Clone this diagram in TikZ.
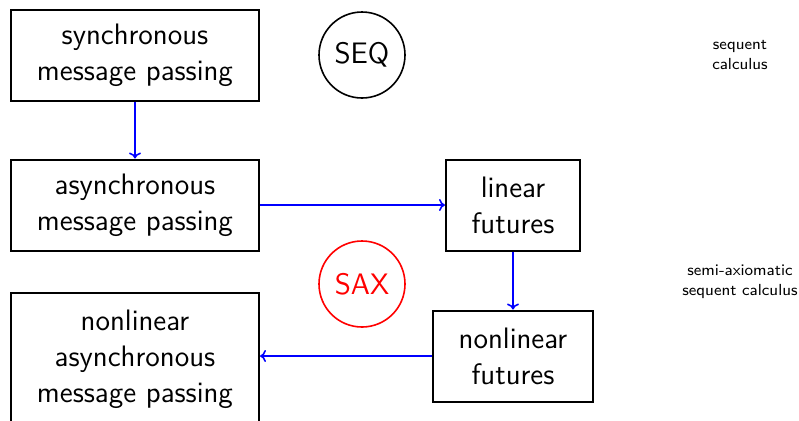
\documentclass[tikz,border=0pt]{standalone}
\usetikzlibrary{arrows.meta}
\begin{document}
\begin{tikzpicture}[x=0.5pt,y=-0.5pt,
  every node/.style={font=\sffamily\fontsize{14.8}{18}\selectfont, align=center, inner sep=0pt},
  box/.style={draw=black, line width=1pt},
  calc/.style={draw, circle, line width=0.8pt, minimum size=43pt},
  note/.style={font=\sffamily\fontsize{8}{10}\selectfont, align=center},
  conn/.style={draw=blue, line width=0.8pt, -{To[length=3pt,width=6pt]}}]
\useasboundingbox (0,0) rectangle (799,420);
\node[box, minimum width=124pt, minimum height=45.5pt] (sync) at (135,55) {synchronous\\message passing};
\node[calc] (seq) at (362,55) {SEQ};
\node[note] (seqlbl) at (740,55) {sequent\\calculus};
\node[box, minimum width=124pt, minimum height=45.5pt] (async) at (135,205) {asynchronous\\message passing};
\node[box, minimum width=67pt, minimum height=45.5pt] (lin) at (513,205) {linear\\futures};
\node[calc, draw=red, text=red] (sax) at (362,284) {SAX};
\node[note] (saxlbl) at (740,282) {semi-axiomatic\\sequent calculus};
\node[box, minimum width=80pt, minimum height=45.5pt] (nlf) at (513,356) {nonlinear\\futures};
\node[box, minimum width=124pt, minimum height=66pt] (nlasync) at (135,359) {nonlinear\\asynchronous\\message passing};
\draw[conn] (sync) -- (async);
\draw[conn] (async) -- (lin);
\draw[conn] (lin) -- (nlf);
\draw[conn] (nlf) -- (nlasync.east |- nlf);
\end{tikzpicture}
\end{document}
